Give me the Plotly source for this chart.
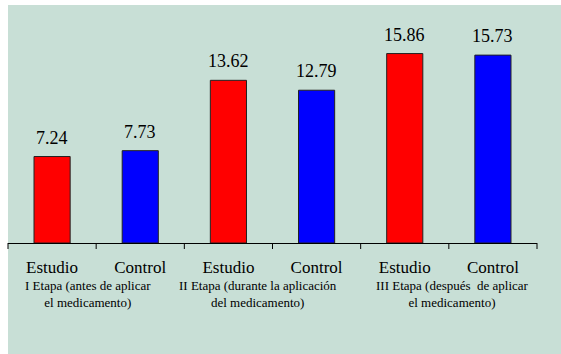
import plotly.graph_objects as go

# Data
grupos = ["Estudio", "Control", "Estudio", "Control", "Estudio", "Control"]
valores = [7.24, 7.73, 13.62, 12.79, 15.86, 15.73]
colores = ["#FF0000", "#0000FF", "#FF0000", "#0000FF", "#FF0000", "#0000FF"]
etapas = [
    "I Etapa (antes de aplicar<br>el medicamento)",
    "II Etapa (durante la aplicación<br>del medicamento)",
    "III Etapa (después  de aplicar<br>el medicamento)",
]
etapa_pos = [0.41, 2.34, 4.54]

x_idx = list(range(len(grupos)))
limites = [i - 0.5 for i in range(len(grupos) + 1)]
x_range = [-0.5, len(grupos) - 0.5]
SERIF = "Liberation Serif"


def negro(s):
    return '<span style="color:black">' + s.replace("<br>", '</span><br><span style="color:black">') + "</span>"


fig = go.Figure()
fig.add_trace(go.Bar(
    x=x_idx,
    y=valores,
    marker=dict(color=colores, line=dict(color="#222222", width=1)),
    width=0.41,
    hoverinfo="skip",
))

# value labels above each bar
for xi, v in zip(x_idx, valores):
    fig.add_annotation(
        x=xi, y=v, xref="x", yref="y",
        text=negro(f"{v:.2f}"), showarrow=False,
        yanchor="bottom", yshift=7,
        font=dict(family=SERIF, size=18),
    )

# stage captions under each pair of bars
for xp, t in zip(etapa_pos, etapas):
    fig.add_annotation(
        x=xp, y=-0.155, xref="x", yref="paper",
        text=negro(t), showarrow=False, align="center",
        yanchor="top",
        font=dict(family=SERIF, size=13),
    )

# light green panel behind the chart
fig.add_shape(
    type="rect", xref="paper", yref="paper", layer="below",
    x0=0, x1=(561 - 8) / 529, y0=-111 / 215, y1=(243 - 5) / 215,
    fillcolor="#C8DFD6", line=dict(width=0),
)

# small tick marks on the boundaries between categories
span = x_range[1] - x_range[0]
for b in limites:
    xp = (b - x_range[0]) / span
    fig.add_shape(
        type="line", xref="paper", yref="paper",
        ysizemode="pixel", yanchor=0,
        x0=xp, x1=xp, y0=0, y1=-6,
        line=dict(color="black", width=1),
    )

fig.update_layout(
    width=561, height=354,
    margin=dict(l=8, r=24, t=28, b=111),
    paper_bgcolor="white",
    plot_bgcolor="rgba(0,0,0,0)",
    showlegend=False,
    xaxis=dict(
        range=x_range,
        tickmode="array", tickvals=x_idx, ticktext=grupos,
        ticks="outside", ticklen=9, tickcolor="rgba(0,0,0,0)",
        showgrid=False, zeroline=False,
        showline=True, linecolor="black", linewidth=1,
        tickfont=dict(family=SERIF, size=17, color="black"),
    ),
    yaxis=dict(
        range=[0, 18], visible=False, showgrid=False, zeroline=False,
    ),
)

fig.write_html("out.html")
